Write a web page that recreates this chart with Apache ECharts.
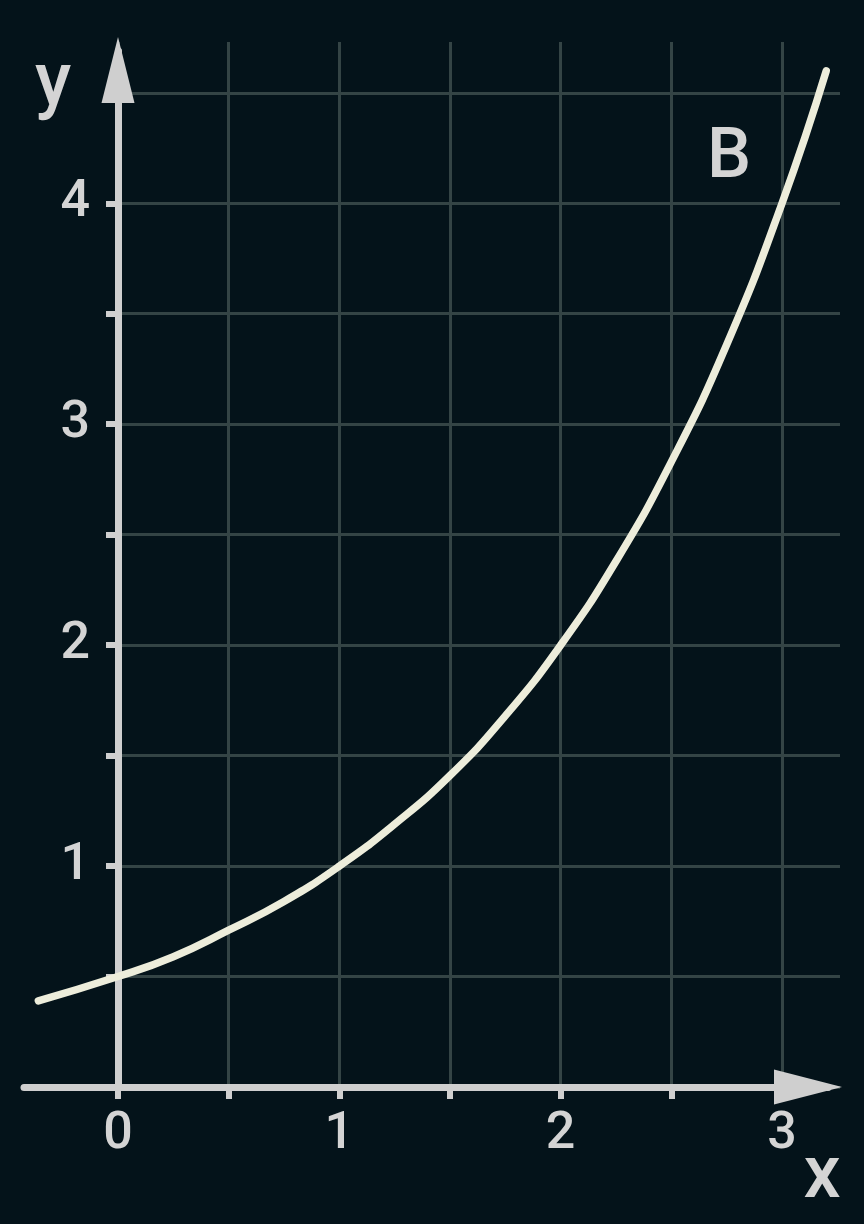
<!DOCTYPE html>
<html>
<head>
<meta charset="utf-8">
<script src="https://cdn.jsdelivr.net/npm/echarts@6/dist/echarts.min.js"></script>
<style>
html,body{margin:0;padding:0;background:#04131a;}
#c{width:864px;height:1224px;}
</style>
</head>
<body>
<div id="c"></div>
<script>
// Data (curve B)
const curveX = [-0.36, 0, 0.25, 0.5, 0.75, 1, 1.25, 1.5, 1.75, 2, 2.25, 2.5, 2.75, 3, 3.2];
const curveY = [0.39, 0.5, 0.59, 0.71, 0.84, 1.0, 1.19, 1.41, 1.68, 2.0, 2.38, 2.83, 3.36, 4.0, 4.6];
const xTickLabels = ['0', '1', '2', '3'];
const yTickLabels = ['1', '2', '3', '4'];
const curveName = 'B';

const axisColor = '#cfcfcf';
const gridColor = '#344445';
const textColor = '#d4d4d4';
const fontFamily = 'Roboto, "Noto Sans", sans-serif';

const chart = echarts.init(document.getElementById('c'), null, {renderer: 'canvas'});

function intLabel(list) {
  return function (v) {
    const r = Math.round(v);
    if (Math.abs(v - r) < 1e-6 && list.indexOf(String(r)) >= 0) return String(r);
    return '';
  };
}

const option = {
  backgroundColor: '#04131a',
  animation: false,
  grid: [
    {left: 118, right: 24, top: 42, bottom: 137},
    {left: 24, right: 36, top: 51, bottom: 137}
  ],
  xAxis: [
    {
      type: 'value', gridIndex: 0, min: 0, max: 3.2625, interval: 0.5,
      axisLine: {show: false},
      axisTick: {show: true, length: 12, lineStyle: {color: axisColor, width: 6}},
      axisLabel: {show: true, margin: 22, color: textColor, fontSize: 52, fontWeight: 500, fontFamily: fontFamily,
        formatter: intLabel(xTickLabels), showMaxLabel: false},
      splitLine: {show: true, showMaxLine: false, lineStyle: {color: gridColor, width: 3}}
    },
    {
      type: 'value', gridIndex: 1, min: -0.4248, max: 3.208,
      axisLine: {show: true, onZero: true, symbol: ['none', 'triangle'], symbolSize: [35, 68], symbolOffset: [0, -20],
        lineStyle: {color: axisColor, width: 7}},
      axisTick: {show: false}, axisLabel: {show: false}, splitLine: {show: false}
    }
  ],
  yAxis: [
    {
      type: 'value', gridIndex: 0, min: 0, max: 4.73, interval: 0.5,
      axisLine: {show: false},
      axisTick: {show: true, length: 12, lineStyle: {color: axisColor, width: 6}},
      axisLabel: {show: true, margin: 28, color: textColor, fontSize: 52, fontWeight: 500, fontFamily: fontFamily,
        formatter: intLabel(yTickLabels), showMaxLabel: false},
      splitLine: {show: true, showMaxLine: false, lineStyle: {color: gridColor, width: 3}}
    },
    {
      type: 'value', gridIndex: 1, min: 0, max: 4.69,
      axisLine: {show: true, onZero: true, symbol: ['none', 'triangle'], symbolSize: [33, 66], symbolOffset: [0, -19],
        lineStyle: {color: axisColor, width: 7}},
      axisTick: {show: false}, axisLabel: {show: false}, splitLine: {show: false}
    }
  ],
  series: [
    {
      name: curveName,
      type: 'line',
      xAxisIndex: 1, yAxisIndex: 1,
      data: curveX.map((x, i) => [x, curveY[i]]),
      smooth: 0.5,
      showSymbol: false,
      clip: false,
      lineStyle: {color: '#ededdb', width: 7.5, cap: 'round'},
      z: 5
    }
  ],
  graphic: [
    {type: 'text', x: 53, y: 85, style: {text: 'y', fill: textColor, font: '500 74px ' + fontFamily, textAlign: 'center', textVerticalAlign: 'middle'}},
    {type: 'text', x: 822, y: 1178, style: {text: 'x', fill: textColor, font: '500 74px ' + fontFamily, textAlign: 'center', textVerticalAlign: 'middle'}},
    {type: 'text', x: 729, y: 159, style: {text: curveName, fill: textColor, font: '500 70px ' + fontFamily, textAlign: 'center', textVerticalAlign: 'middle'}}
  ]
};
chart.setOption(option);
</script>
</body>
</html>
